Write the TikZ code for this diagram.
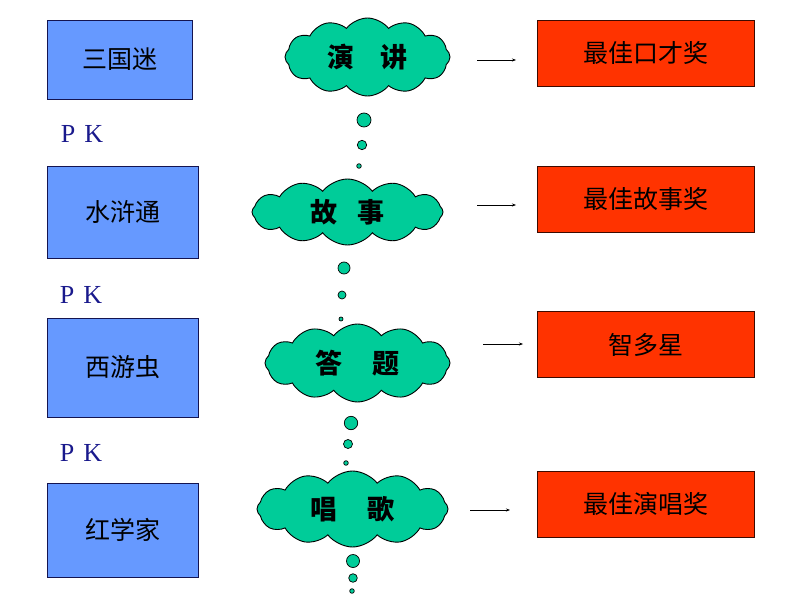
\documentclass[tikz,border=0pt]{standalone}
\usepackage{fontspec}
\setmainfont{Liberation Serif}
\newfontfamily\cjk{Noto Sans CJK SC}
\usetikzlibrary{shapes.symbols,arrows.meta}

\definecolor{teamblue}{RGB}{102,153,255}
\definecolor{teamline}{RGB}{20,20,80}
\definecolor{prizered}{RGB}{255,51,0}
\definecolor{prizeline}{RGB}{60,10,0}
\definecolor{cloudgreen}{RGB}{0,204,153}
\definecolor{pkblue}{RGB}{25,25,140}

\begin{document}
\begin{tikzpicture}[x=1pt,y=-1pt,
  team/.style={draw=teamline,fill=teamblue,line width=0.8pt,
    font=\cjk\fontsize{25}{30}\selectfont},
  prize/.style={draw=prizeline,fill=prizered,line width=0.8pt,
    minimum width=217,minimum height=66,
    font=\cjk\fontsize{25}{30}\selectfont},
  event/.style={cloud,cloud puffs=12,cloud puff arc=105,cloud ignores aspect,
    draw=black,fill=cloudgreen,line width=0.9pt,inner sep=0pt,
    font=\cjk\bfseries\fontsize{27}{30}\selectfont},
  pk/.style={text=pkblue,font=\fontsize{26}{30}\selectfont},
  bubble/.style={draw=black,fill=cloudgreen,line width=0.7pt},
  arr/.style={-{Stealth[length=4pt,width=3pt]},line width=0.6pt}]
\useasboundingbox (0,0) rectangle (794,596);

% teams
\node[team,minimum width=145,minimum height=79] (t1) at (119.5,59.5) {三国迷};
\node[team,minimum width=151,minimum height=92] (t2) at (122.5,212) {水浒通};
\node[team,minimum width=151,minimum height=99] (t3) at (122.5,367.5) {西游虫};
\node[team,minimum width=151,minimum height=94] (t4) at (122.5,530) {红学家};

\node[pk] (pk1) at (82,134) {P\hspace{9pt}K};
\node[pk] (pk2) at (81,295) {P\hspace{9pt}K};
\node[pk] (pk3) at (81,453) {P\hspace{9pt}K};

% events
\node[event,minimum width=165,minimum height=78] (c1) at (367.5,57) {演\hspace{0.95em}讲};
\node[event,minimum width=191,minimum height=66] (c2) at (347.5,212) {故\hspace{0.75em}事};
\node[event,minimum width=185,minimum height=78] (c3) at (357.5,363) {答\hspace{1.1em}题};
\node[event,minimum width=191,minimum height=76] (c4) at (352.5,509) {唱\hspace{1.1em}歌};

\foreach \x/\y/\r in {364/120/7,362/145/4.7,359/166/2.3,
                      344/268/6,342/295/4,341/319/2,
                      351/423/6.7,348/444/4.5,346/463/2.3,
                      353/561/6.5,353/578/4.3,352/591/2.3}
  \draw[bubble] (\x,\y) circle (\r pt);

% prizes
\node[prize] (r1) at (645.5,53) {最佳口才奖};
\node[prize] (r2) at (645.5,199) {最佳故事奖};
\node[prize] (r3) at (645.5,344.5) {智多星};
\node[prize] (r4) at (645.5,504) {最佳演唱奖};

\coordinate (a1) at (477,60);  \coordinate (b1) at (516,60);
\coordinate (a2) at (477,205); \coordinate (b2) at (516,205);
\coordinate (a3) at (483,344); \coordinate (b3) at (523,344);
\coordinate (a4) at (470,510); \coordinate (b4) at (510,510);
\foreach \i in {1,...,4}
  \draw[arr] (a\i) -- (b\i);
\end{tikzpicture}
\end{document}
